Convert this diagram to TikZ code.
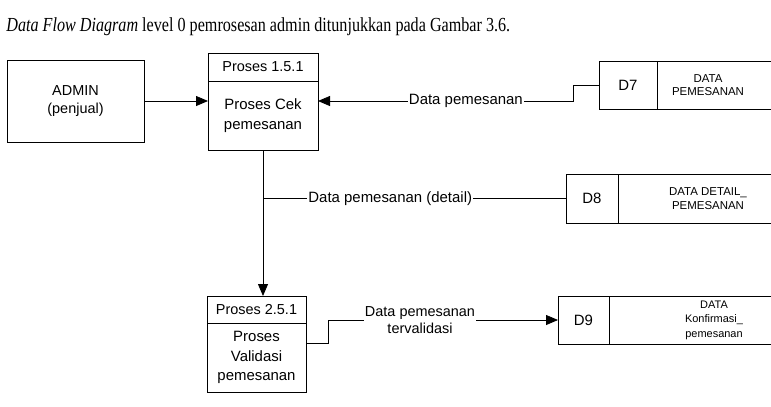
\documentclass[tikz,border=0pt]{standalone}
\usepackage{fontspec}
\setmainfont{Liberation Serif}
\setsansfont{Liberation Sans}
\usetikzlibrary{positioning,arrows.meta}
\begin{document}
\begin{tikzpicture}[x=1bp, y=-1bp, line width=0.8bp,
ent/.style={draw, rectangle, outer sep=0pt, align=center, font=\sffamily\fontsize{14.5}{19}\selectfont},
phead/.style={ent, minimum height=28bp},
pbody/.style={ent, minimum height=69bp, font=\sffamily\fontsize{15}{19.5}\selectfont},
storeid/.style={draw, rectangle, outer sep=0pt, minimum height=48bp, font=\sffamily\fontsize{15}{18}\selectfont},
storename/.style={outer sep=0pt, inner sep=0pt, minimum height=48bp, align=center, font=\sffamily\fontsize{11.5}{13.5}\selectfont},
lbl/.style={fill=white, inner sep=1bp, align=center, font=\sffamily\fontsize{15}{17}\selectfont},
flow/.style={-{Triangle[length=12bp,width=10bp]}}
]
\clip (0,0) rectangle (771,406);
\node[anchor=base west, inner sep=0pt, font=\fontsize{20}{24}\selectfont] (title) at (6,31) {\scalebox{0.81}[1]{\textit{Data Flow Diagram} level 0 pemrosesan admin ditunjukkan pada Gambar 3.6.}};

\node[ent, minimum width=137bp, minimum height=82bp] (admin) at (75.5,101) {ADMIN\\(penjual)};

\node[phead, minimum width=110bp] (p1h) at (263,67) {Proses 1.5.1};
\node[pbody, minimum width=110bp, below=0pt of p1h] (p1b) {Proses Cek\\pemesanan};
\node[phead, minimum width=99bp, minimum height=27bp] (p2h) at (256.5,309.5) {Proses 2.5.1};
\node[pbody, minimum width=99bp, below=0pt of p2h] (p2b) {Proses\\Validasi\\pemesanan};

\node[storeid, minimum width=58bp] (d7) at (628,85) {D7};
\node[storename, minimum width=102bp, right=0pt of d7] (d7n) {DATA\\PEMESANAN};
\node[storeid, minimum width=52bp, minimum height=49bp] (d8) at (592,198.5) {D8};
\node[storename, minimum width=180bp, right=0pt of d8] (d8n) {DATA DETAIL\_\\PEMESANAN};
\node[storeid, minimum width=51bp] (d9) at (583.5,320) {D9};
\node[storename, minimum width=210bp, right=0pt of d9, font=\sffamily\fontsize{11}{14.5}\selectfont] (d9n) {DATA\\Konfirmasi\_\\pemesanan};

\draw (d7.north east) -- ++(200,0) (d7.south east) -- ++(200,0);
\draw (d8.north east) -- ++(200,0) (d8.south east) -- ++(200,0);
\draw (d9.north east) -- ++(200,0) (d9.south east) -- ++(200,0);

\draw[flow] (admin.east) -- (admin.east -| p1b.west);
\draw[flow] (d7.west) -- ++(-26,0) |- node[lbl, pos=0.71]{Data pemesanan} (p1b.east |- admin.east);
\draw[flow] (p1b.south) -- (p1b.south |- p2h.north);
\draw (p1b.south |- d8.west) -- node[lbl, pos=0.42]{Data pemesanan (detail)} (d8.west);
\draw[flow] ([yshift=14bp]p2b.east) -- ++(22,0) |- node[lbl, pos=0.70, font=\sffamily\fontsize{14.5}{17}\selectfont]{Data pemesanan\\tervalidasi} (d9.west);
\end{tikzpicture}
\end{document}
